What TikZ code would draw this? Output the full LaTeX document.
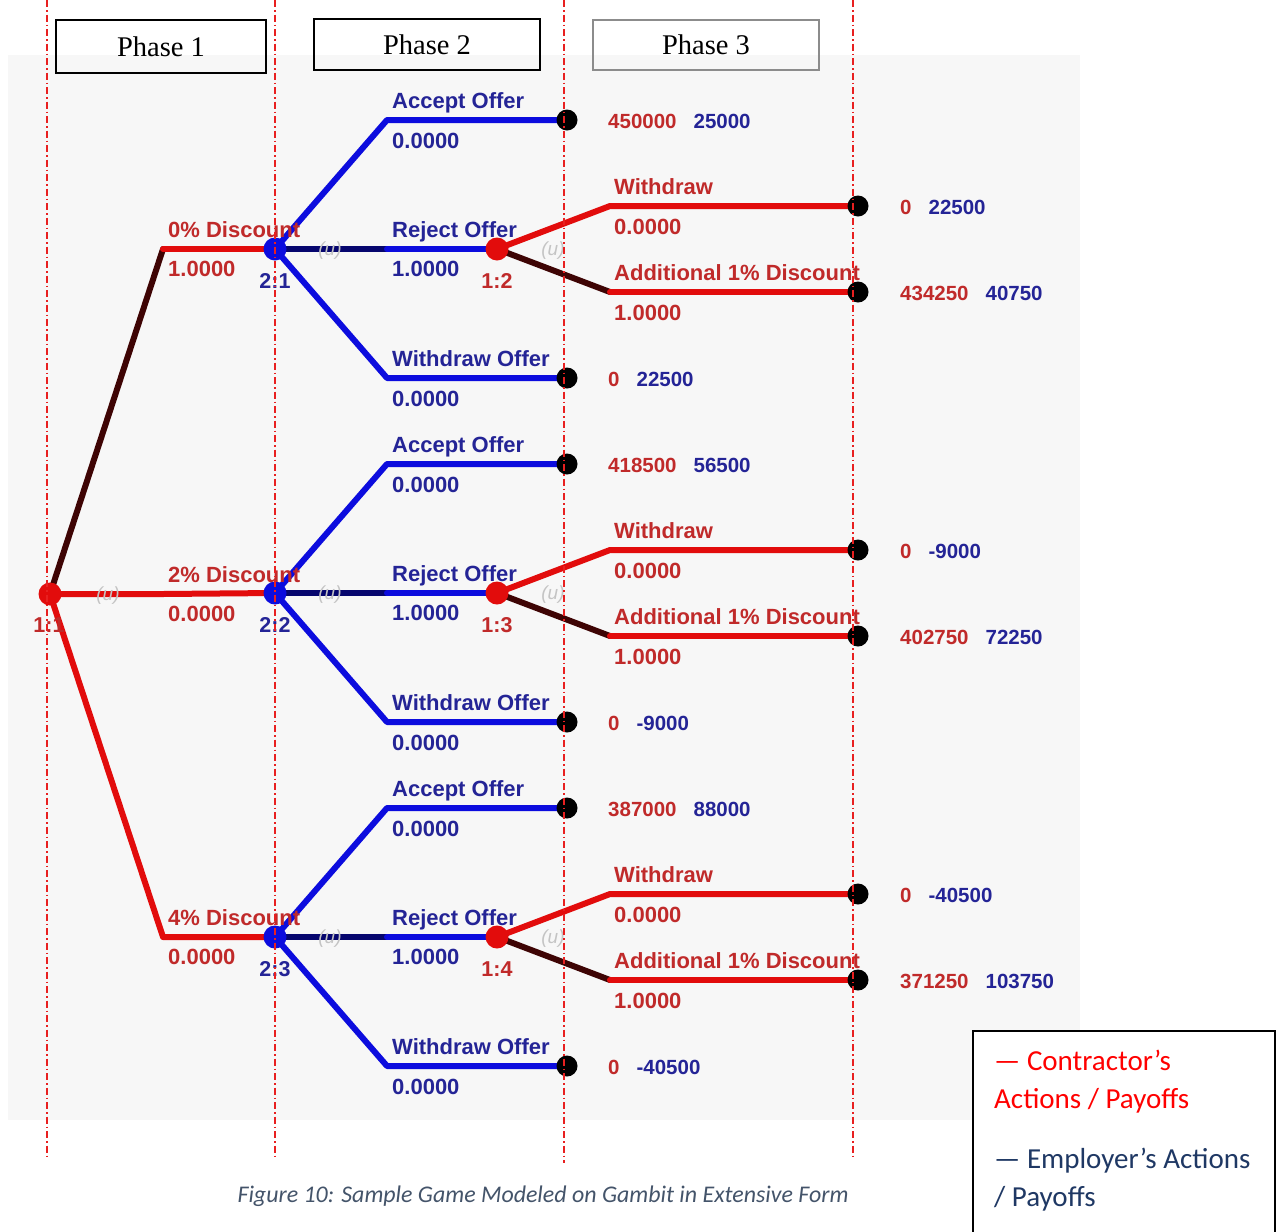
\documentclass[tikz,border=0pt]{standalone}
\usepackage{fontspec}
\setmainfont{Liberation Sans}
\newfontfamily\phasefont{Liberation Serif}
\newfontfamily\notefont{Carlito}

\definecolor{bggrey}{RGB}{247,247,247}
\definecolor{lred}{RGB}{226,12,12}
\definecolor{lblue}{RGB}{12,12,222}
\definecolor{dred}{RGB}{62,4,4}
\definecolor{dblue}{RGB}{6,6,110}
\definecolor{tred}{RGB}{192,42,42}
\definecolor{tblue}{RGB}{36,36,150}
\definecolor{uGrey}{RGB}{196,196,196}
\definecolor{guide}{RGB}{232,32,32}
\definecolor{legred}{RGB}{255,0,0}
\definecolor{legnavy}{RGB}{31,56,100}
\definecolor{capgrey}{RGB}{68,84,106}
\definecolor{phasegrey}{RGB}{140,140,140}

\pgfdeclarelayer{bg}
\pgfdeclarelayer{edges}
\pgfdeclarelayer{fg}
\pgfsetlayers{bg,edges,main,fg}

\tikzset{
  edge/.style={line width=6pt, line join=round, line cap=round},
  rl/.style={edge, draw=lred},
  bl/.style={edge, draw=lblue},
  drl/.style={edge, draw=dred},
  dbl/.style={edge, draw=dblue},
  dec/.style={circle, inner sep=0pt, minimum size=23pt},
  term/.style={circle, fill=black, inner sep=0pt, minimum size=21pt},
  lab/.style={font=\fontsize{22}{26}\selectfont\bfseries, anchor=base west, inner sep=0pt},
  rlab/.style={lab, text=tred},
  blab/.style={lab, text=tblue},
  nlab/.style={font=\fontsize{21.5}{24}\selectfont\bfseries, anchor=base, inner sep=0pt},
  ulab/.style={font=\fontsize{19}{22}\selectfont\itshape, text=uGrey, inner sep=0pt},
  pay/.style={font=\fontsize{20.5}{24}\selectfont\bfseries, anchor=base west, inner sep=0pt},
  phasebox/.style={draw, line width=2pt, inner sep=0pt, font=\phasefont\fontsize{28.5}{32}\selectfont},
  guideline/.style={draw=guide, line width=1.2pt, dash pattern=on 7pt off 3pt on 1.5pt off 3pt},
  legtext/.style={font=\notefont\fontsize{29}{34}\selectfont, anchor=base west, inner sep=0pt},
}

\begin{document}
\begin{tikzpicture}[x=1pt, y=-1pt]
\useasboundingbox (0,0) rectangle (1278,1232);
\begin{pgfonlayer}{bg}
  \fill[white] (0,0) rectangle (1278,1232);
  \fill[bggrey] (8,55) rectangle (1080,1120);
\end{pgfonlayer}

% phase headings
\node[phasebox, minimum width=210pt, minimum height=53pt] (ph1) at (161,46.5) {Phase 1};
\node[phasebox, minimum width=226pt, minimum height=51pt] (ph2) at (427,44.5) {Phase 2};
\node[phasebox, draw=phasegrey, minimum width=226pt, minimum height=50pt] (ph3) at (706,45) {Phase 3};

% root of the game
\node[dec, fill=lred] (R) at (50,594) {};
\node[nlab, text=tred] (Rl) at (49,632) {1:1};
\node[ulab] (Ru) at (108,596) {(u)};
\coordinate (K1) at (163,249);
\coordinate (K2) at (163,594);
\coordinate (K3) at (163,937);

% one subgame per discount level
\foreach \i/\dy/\pl/\cl/\aa/\ab/\wa/\wb/\da/\db/\oa/\ob in {
  1/0/2:1/1:2/450000/25000/0/22500/434250/40750/0/22500,
  2/344/2:2/1:3/418500/56500/0/-9000/402750/72250/0/-9000,
  3/688/2:3/1:4/387000/88000/0/-40500/371250/103750/0/-40500}{
\begin{scope}[shift={(0,\dy)}]
  \node[dec, fill=lblue] (P\i) at (275,249) {};
  \node[dec, fill=lred] (C\i) at (497,249) {};
  \coordinate (Pa\i) at (387,120);
  \coordinate (Pr\i) at (387,249);
  \coordinate (Pw\i) at (387,378);
  \coordinate (Cw\i) at (610,206);
  \coordinate (Cd\i) at (610,292);
  \node[term] (TA\i) at (567,120) {};
  \node[term] (TO\i) at (567,378) {};
  \node[term] (TW\i) at (858,206) {};
  \node[term] (TD\i) at (858,292) {};
  \begin{pgfonlayer}{edges}
    \draw[bl] (P\i.center) -- (Pa\i) -- (TA\i.center);
    \draw[dbl] (P\i.center) -- (Pr\i);
    \draw[bl] (Pr\i) -- (C\i.center);
    \draw[bl] (P\i.center) -- (Pw\i) -- (TO\i.center);
    \draw[rl] (C\i.center) -- (Cw\i) -- (TW\i.center);
    \draw[drl] (C\i.center) -- (Cd\i);
    \draw[rl] (Cd\i) -- (TD\i.center);
  \end{pgfonlayer}
  % node labels
  \node[nlab, text=tblue] (Pl\i) at (275,288) {\pl};
  \node[nlab, text=tred] (Cl\i) at (497,288) {\cl};
  \node[ulab] (Pu\i) at (330,251) {(u)};
  \node[ulab] (Cu\i) at (553,251) {(u)};
  % employer's actions
  \node[blab] (LA\i) at (392,108) {Accept Offer};
  \node[blab] (QA\i) at (392,148) {0.0000};
  \node[blab] (LR\i) at (392,237) {Reject Offer};
  \node[blab] (QR\i) at (392,276) {1.0000};
  \node[blab] (LO\i) at (392,366) {Withdraw Offer};
  \node[blab] (QO\i) at (392,406) {0.0000};
  % contractor's actions
  \node[rlab] (LW\i) at (614,194) {Withdraw};
  \node[rlab] (QW\i) at (614,234) {0.0000};
  \node[rlab] (LD\i) at (614,280) {Additional 1\% Discount};
  \node[rlab] (QD\i) at (614,320) {1.0000};
  % payoffs
  \node[pay] (VA\i) at (608,128) {\textcolor{tred}{\aa}\hspace{17pt}\textcolor{tblue}{\ab}};
  \node[pay] (VO\i) at (608,386) {\textcolor{tred}{\oa}\hspace{17pt}\textcolor{tblue}{\ob}};
  \node[pay] (VW\i) at (900,214) {\textcolor{tred}{\wa}\hspace{17pt}\textcolor{tblue}{\wb}};
  \node[pay] (VD\i) at (900,300) {\textcolor{tred}{\da}\hspace{17pt}\textcolor{tblue}{\db}};
\end{scope}
}

% contractor's first move
\begin{pgfonlayer}{edges}
  \draw[drl] (R.center) -- (K1);
  \draw[rl] (K1) -- (P1.center);
  \draw[rl] (R.center) -- (K2) -- (P2.center);
  \draw[rl] (R.center) -- (K3) -- (P3.center);
\end{pgfonlayer}
\node[rlab] (L1) at (168,237) {0\% Discount};
\node[rlab] (Q1) at (168,276) {1.0000};
\node[rlab] (L2) at (168,582) {2\% Discount};
\node[rlab] (Q2) at (168,621) {0.0000};
\node[rlab] (L3) at (168,925) {4\% Discount};
\node[rlab] (Q3) at (168,964) {0.0000};

% phase boundaries
\begin{pgfonlayer}{fg}
  \coordinate (g1a) at (47,0);   \coordinate (g1b) at (47,1158);
  \coordinate (g2a) at (275,0);  \coordinate (g2b) at (275,1160);
  \coordinate (g3a) at (564,0);  \coordinate (g3b) at (564,1163);
  \coordinate (g4a) at (853,0);  \coordinate (g4b) at (853,1160);
  \draw[guideline] (g1a) -- (g1b);
  \draw[guideline] (g2a) -- (g2b);
  \draw[guideline] (g3a) -- (g3b);
  \draw[guideline] (g4a) -- (g4b);
\end{pgfonlayer}

% caption
\node[font=\notefont\itshape\fontsize{23.9}{28}\selectfont, text=capgrey, anchor=base, inner sep=0pt] (cap) at (543,1202)
  {Figure 10: Sample Game Modeled on Gambit in Extensive Form};

% legend
\draw[line width=1.6pt, fill=white] (973,1031) rectangle (1275,1260);
\node[legtext, text=legred] (k1) at (994,1070) {— Contractor’s};
\node[legtext, text=legred] (k2) at (994,1108) {Actions / Payoffs};
\node[legtext, text=legnavy] (k3) at (994,1168) {— Employer’s Actions};
\node[legtext, text=legnavy] (k4) at (994,1206) {/ Payoffs};
\end{tikzpicture}
\end{document}
